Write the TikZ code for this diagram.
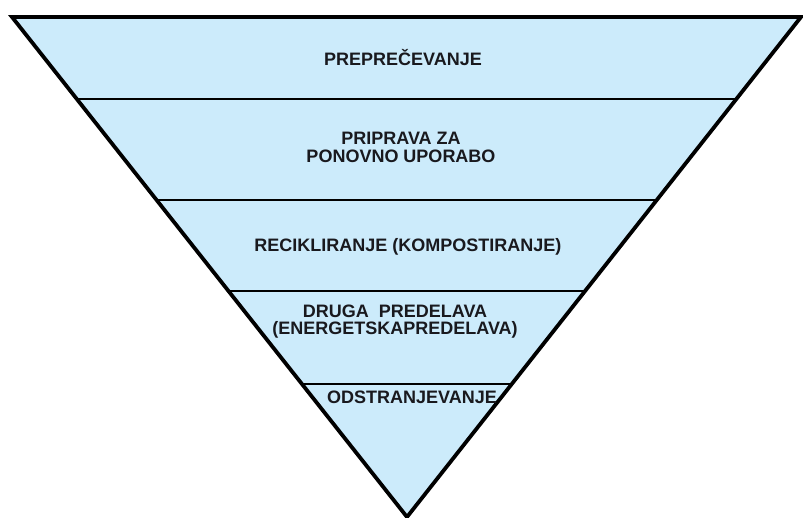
\documentclass[tikz,border=0pt]{standalone}
\usepackage{fontspec}
\setmainfont{Liberation Sans}
\usetikzlibrary{positioning}
\usetikzlibrary{calc}
\definecolor{layerblue}{RGB}{204,235,251}
\definecolor{labelink}{RGB}{25,25,30}

\tikzset{
    layertext/.style={font=\bfseries\fontsize{18}{17.7}\selectfont, text=labelink, align=center, inner sep=0pt, anchor=base},
    divider/.style={line width=1.3pt}
}

\begin{document}
\begin{tikzpicture}[x=1pt,y=1pt]
\useasboundingbox (0,0) rectangle (803,518);

% Corners of the pyramid
\coordinate (topleft) at (12,501);
\coordinate (topright) at (801,501);
\coordinate (apex) at (407,1);

% Fill
\fill[layerblue] (topleft) -- (topright) -- (apex) -- cycle;

% Dividing lines
\draw[divider] ($(topleft)!0.164!(apex)$) -- ($(topright)!0.164!(apex)$);
\draw[divider] ($(topleft)!0.366!(apex)$) -- ($(topright)!0.366!(apex)$);
\draw[divider] ($(topleft)!0.548!(apex)$) -- ($(topright)!0.548!(apex)$);
\draw[divider] ($(topleft)!0.734!(apex)$) -- ($(topright)!0.734!(apex)$);

% Outline
\draw[line width=3.8pt, line join=miter] (topleft) -- (topright) -- (apex) -- cycle;

% Labels (base = last line)
\node[layertext] (prevention) at (403,452) {PREPREČEVANJE};

\node[layertext] (reuse) at (401,355.5) {PRIPRAVA ZA\\PONOVNO UPORABO};

\node[layertext] (recycling) at (408,266.3) {RECIKLIRANJE (KOMPOSTIRANJE)};

\node[layertext] (recovery) at (395,183) {DRUGA\ \ PREDELAVA\\(ENERGETSKAPREDELAVA)};

\node[layertext] (disposal) at (412,114) {ODSTRANJEVANJE};

\end{tikzpicture}
\end{document}
